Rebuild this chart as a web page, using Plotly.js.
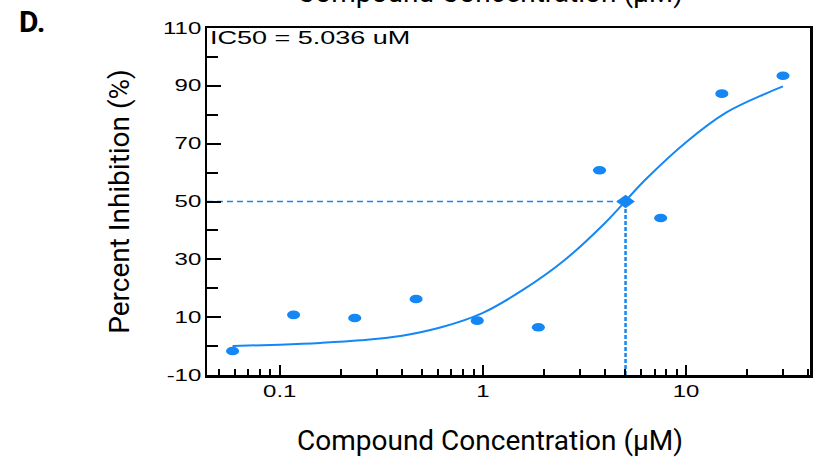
<!DOCTYPE html>
<html>
<head>
<meta charset="utf-8">
<script src="https://cdn.plot.ly/plotly-3.0.1.min.js"></script>
<style>
html, body { margin: 0; padding: 0; background: #fff; }
#chart { width: 819px; height: 466px; }
</style>
</head>
<body>
<div id="chart"></div>
<script>
// Measured data points (2-fold dilution series)
const concentration = [0.0586, 0.117, 0.234, 0.469, 0.938, 1.875, 3.75, 7.5, 15, 30];
const inhibition = [-1.7, 10.8, 9.7, 16.3, 8.8, 6.5, 60.8, 44.3, 87.3, 93.5];

// Fitted dose-response curve
const fitConcentration = [0.0586, 0.1, 0.158, 0.25, 0.4, 0.63, 1, 1.58, 2.5, 3.98, 6.3, 10, 15.8, 25, 30];
const fitInhibition = [0.0, 0.5, 1.1, 2.0, 3.6, 6.6, 11.5, 19.5, 29.5, 42.5, 57.5, 70.5, 80.8, 87.5, 89.8];

// IC50 marker
const ic50 = 5.036;
const ic50Response = 50;

// Axis settings and labels
const xLogRange = [-1.358, 1.61];
const yRange = [-10, 110];
const xTickVals = [0.1, 1, 10];
const xTickText = ['0.1', '1', '10'];
const yTickVals = [-10, 10, 30, 50, 70, 90, 110];
const yTickText = ['-10', '10', '30', '50', '70', '90', '110'];
const xTitle = 'Compound Concentration (μM)';
const yTitle = 'Percent Inhibition (%)';
const panelLabel = 'D.';

const blue = '#1487f5';
const textStretch = 1.5; // the reference's tick labels and IC50 note are drawn horizontally widened

const traces = [
  {
    x: fitConcentration, y: fitInhibition, type: 'scatter', mode: 'lines',
    line: { color: blue, width: 2, shape: 'spline', smoothing: 1 },
    hoverinfo: 'skip', showlegend: false
  },
  {
    x: [Math.pow(10, xLogRange[0]), ic50], y: [ic50Response, ic50Response],
    type: 'scatter', mode: 'lines',
    line: { color: blue, width: 1.5, dash: '6px,4px' }, showlegend: false
  },
  {
    x: [ic50, ic50], y: [yRange[0], ic50Response],
    type: 'scatter', mode: 'lines',
    line: { color: blue, width: 2.5, dash: '4px,2px' }, showlegend: false
  },
  {
    x: concentration, y: inhibition, type: 'scatter', mode: 'markers',
    marker: { color: blue, size: 10.5, symbol: 'circle' }, showlegend: false
  },
  {
    x: [ic50], y: [ic50Response], type: 'scatter', mode: 'markers',
    marker: { color: blue, size: 12, symbol: 'diamond' }, showlegend: false
  }
];

const titleFont = { family: 'Roboto, sans-serif', size: 28, color: '#000' };
const tickFont = { family: '"Liberation Sans", Arial, sans-serif', size: 16, color: '#000' };

const layout = {
  width: 819, height: 466,
  margin: { l: 207, r: 9, t: 28, b: 91, pad: 0 },
  paper_bgcolor: '#fff', plot_bgcolor: '#fff',
  showlegend: false,
  xaxis: {
    type: 'log', range: xLogRange,
    tickmode: 'array', tickvals: xTickVals, ticktext: xTickText,
    ticks: 'inside', ticklen: 10, tickwidth: 2, tickcolor: '#000',
    minor: { ticks: 'inside', ticklen: 6, tickwidth: 2, tickcolor: '#000', dtick: 'D1', showgrid: false },
    showline: true, linecolor: '#000', linewidth: 2.5, mirror: true,
    showgrid: false, zeroline: false,
    tickfont: tickFont
  },
  yaxis: {
    range: yRange,
    tickmode: 'array', tickvals: yTickVals, ticktext: yTickText,
    ticks: 'inside', ticklen: 14, tickwidth: 2, tickcolor: '#000',
    minor: { ticks: 'inside', ticklen: 11, tickwidth: 2, tickcolor: '#000', tick0: 0, dtick: 20, showgrid: false },
    showline: true, linecolor: '#000', linewidth: 2.5, mirror: true,
    showgrid: false, zeroline: false,
    tickfont: tickFont,
    title: { text: yTitle, font: titleFont, standoff: 38 }
  },
  annotations: [
    {
      xref: 'paper', yref: 'paper', x: 0.002, y: 1.005, xanchor: 'left', yanchor: 'top', align: 'left',
      text: 'IC50 = ' + ic50.toFixed(3) + ' uM', showarrow: false,
      font: { family: '"Liberation Sans", Arial, sans-serif', size: 18, color: '#000' }
    },
    {
      xref: 'paper', yref: 'paper', x: -0.315, y: 1.075, xanchor: 'left', yanchor: 'top',
      text: '<b>' + panelLabel + '</b>', showarrow: false,
      font: { family: 'Roboto, sans-serif', size: 30, color: '#000' }
    },
    {
      xref: 'paper', yref: 'paper', x: 0.469, y: -0.19, xanchor: 'center', yanchor: 'middle',
      text: xTitle, showarrow: false, font: titleFont
    },
    {
      xref: 'paper', yref: 'paper', x: 0.469, y: 1.102, xanchor: 'center', yanchor: 'middle',
      text: xTitle, showarrow: false, font: titleFont
    }
  ]
};

function widenText(el, s) {
  const ax = parseFloat(el.getAttribute('x')) || 0;
  const tr = el.getAttribute('transform') || '';
  el.setAttribute('transform', tr + ' translate(' + ax + ',0) scale(' + s + ',1) translate(' + (-ax) + ',0)');
}

function squashMarkers(traceIndex, sx, sy) {
  const tr = document.querySelectorAll('#chart .scatterlayer .trace')[traceIndex];
  if (!tr) return;
  tr.querySelectorAll('path.point').forEach(function (p) {
    const t = p.getAttribute('transform') || '';
    p.setAttribute('transform', t + ' scale(' + sx + ',' + sy + ')');
  });
}

Plotly.newPlot('chart', traces, layout, { displayModeBar: false, staticPlot: true }).then(function () {
  try {
    document.querySelectorAll('#chart .xtick text, #chart .ytick text').forEach(function (t) { widenText(t, textStretch); });
    const first = document.querySelector('#chart .annotation text');
    if (first) widenText(first, textStretch);
    // the reference's dots are flattened ellipses
    squashMarkers(3, 1.25, 0.82);
    squashMarkers(4, 1.2, 0.85);
  } catch (e) { /* keep defaults */ }
});
</script>
</body>
</html>
